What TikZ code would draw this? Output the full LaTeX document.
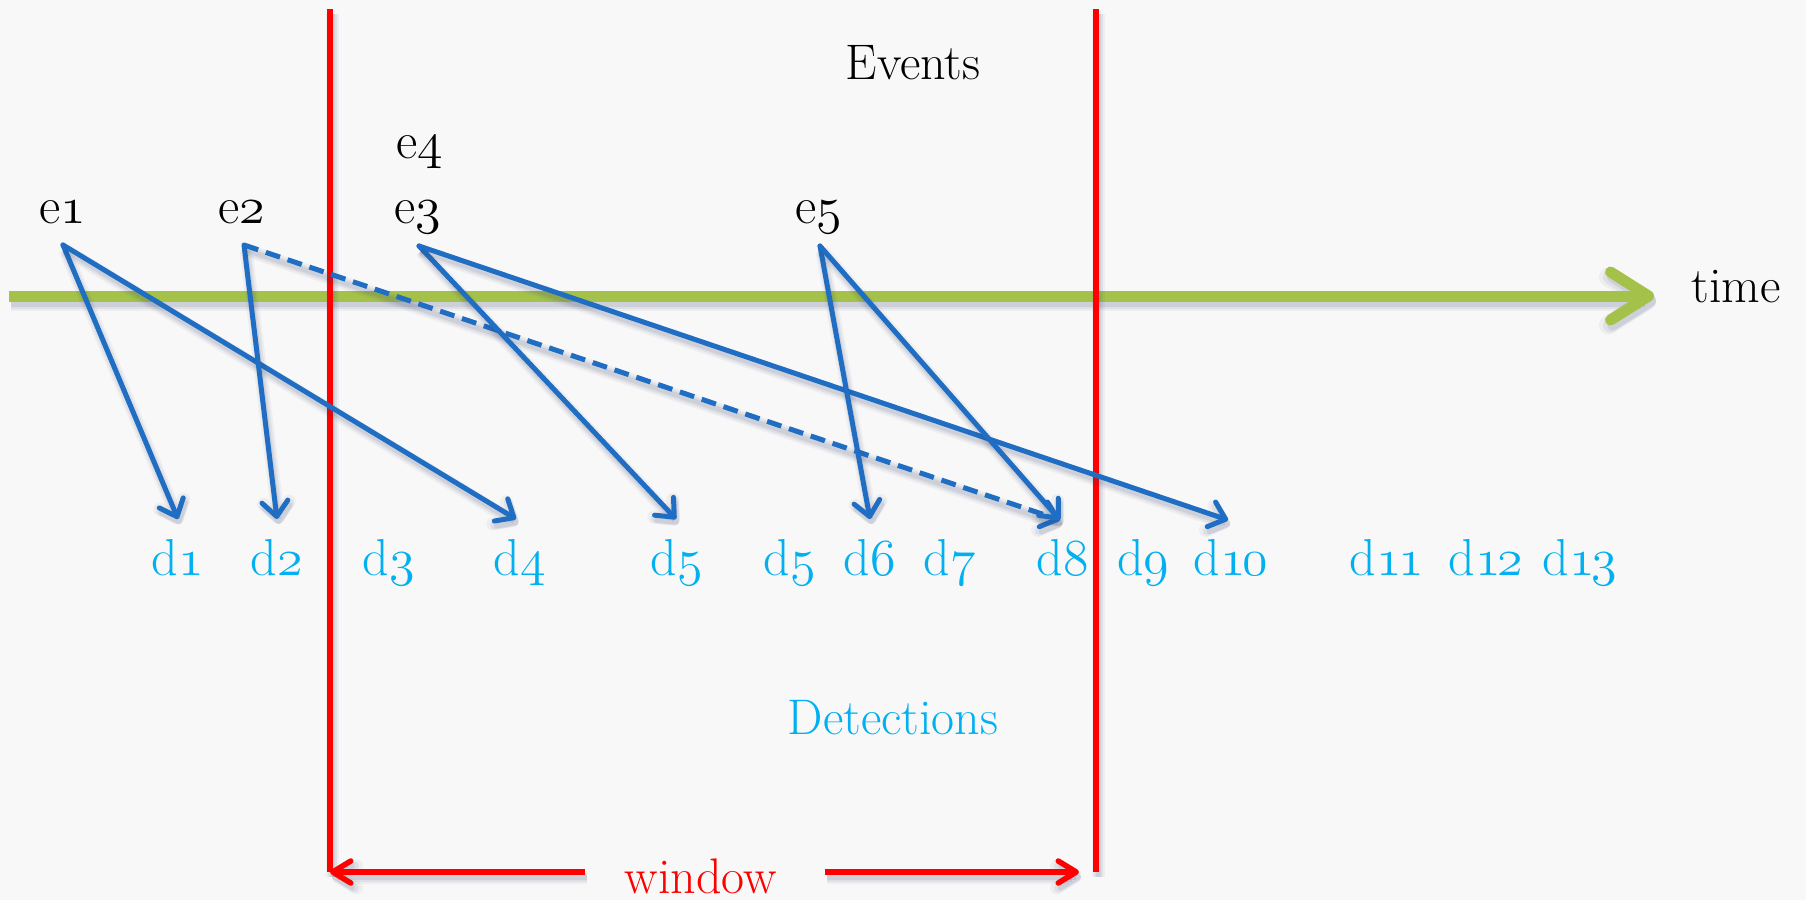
\documentclass[tikz,border=0pt]{standalone}
\usetikzlibrary{arrows.meta}

\definecolor{paper}{HTML}{F8F8F8}
\definecolor{linkblue}{HTML}{1F6EC4}
\definecolor{detcyan}{HTML}{00B0F0}
\definecolor{timegreen}{HTML}{A4C24A}
\definecolor{winred}{HTML}{FF0000}
\definecolor{shade}{HTML}{34456E}

% old-style figures from the math italic font, scalable to any size
\DeclareFontFamily{OML}{osfdig}{\skewchar\font=127 }
\DeclareFontShape{OML}{osfdig}{m}{it}{<->cmmi12}{}
\newcommand\osf[1]{{\usefont{OML}{osfdig}{m}{it}#1}}

\tikzset{
  lbl/.style={anchor=base, inner sep=0pt, font=\fontsize{50}{54}\selectfont},
  tag/.style={anchor=base, inner sep=0pt, font=\fontsize{52}{56}\selectfont},
  evlbl/.style={tag, text=black},
  detlbl/.style={tag, text=detcyan},
  soft shadow/.style={
    preaction={draw=shade, draw opacity=0.05, line width=#1+8pt,
      transform canvas={xshift=2pt,yshift=-5pt}},
    preaction={draw=shade, draw opacity=0.08, line width=#1+4pt,
      transform canvas={xshift=2pt,yshift=-5pt}},
    preaction={draw=shade, draw opacity=0.10, line width=#1,
      transform canvas={xshift=2pt,yshift=-5pt}}},
  link/.style={draw=linkblue, line width=5pt, line cap=round, line join=round,
    -{Straight Barb[length=15pt,width=26pt,round]}, soft shadow=5pt},
  dashlink/.style={link, line cap=butt, dash pattern=on 15pt off 8pt},
  timeline/.style={draw=timegreen, line width=11pt, line join=round,
    -{Straight Barb[length=38pt,width=48pt,round]}, soft shadow=11pt},
  bar/.style={draw=winred, line width=5.5pt, soft shadow=5pt},
  span/.style={draw=winred, line width=5.5pt,
    -{Straight Barb[length=18pt,width=22pt,round]}, soft shadow=5pt},
}

\begin{document}
\begin{tikzpicture}[x=1pt, y=-1pt]
  \useasboundingbox (0,0) rectangle (1806,900);
  \fill[paper] (0,0) rectangle (1806,900);

  % time axis
  \coordinate (t0) at (9,296);
  \coordinate (t1) at (1654,296);
  \draw[timeline] (t0) -- (t1);
  \node[lbl] (time) at (1736,302) {time};

  % headings
  \node[lbl] (events) at (913,79) {Events};
  \node[lbl, text=detcyan] (detections) at (893,734) {Detections};

  % events
  \node[evlbl] (e1) at (63,223) {e\osf{1}};
  \node[evlbl] (e2) at (242,223) {e\osf{2}};
  \node[evlbl] (e3) at (418,223) {e\osf{3}};
  \node[evlbl] (e4) at (420,158) {e\osf{4}};
  \node[evlbl] (e5) at (819,223) {e\osf{5}};

  % detections
  \node[detlbl] (d1)  at (178,575)  {d\osf{1}};
  \node[detlbl] (d2)  at (277,575)  {d\osf{2}};
  \node[detlbl] (d3)  at (389,575)  {d\osf{3}};
  \node[detlbl] (d4)  at (520,575)  {d\osf{4}};
  \node[detlbl] (d5)  at (677,575)  {d\osf{5}};
  \node[detlbl] (d5b) at (790,575)  {d\osf{5}};
  \node[detlbl] (d6)  at (870,575)  {d\osf{6}};
  \node[detlbl] (d7)  at (950,575)  {d\osf{7}};
  \node[detlbl] (d8)  at (1063,575) {d\osf{8}};
  \node[detlbl] (d9)  at (1143,575) {d\osf{9}};
  \node[detlbl] (d10) at (1231,575) {d\osf{1\kern-3pt0}};
  \node[detlbl] (d11) at (1387,575) {d\osf{1\kern-3pt1}};
  \node[detlbl] (d12) at (1486,575) {d\osf{1\kern-3pt2}};
  \node[detlbl] (d13) at (1580,575) {d\osf{1\kern-3pt3}};

  % window boundaries
  \coordinate (lt) at (330,9);
  \coordinate (lb) at (330,872);
  \coordinate (rt) at (1096,9);
  \coordinate (rb) at (1096,872);
  \draw[bar] (lt) -- (lb);
  \draw[bar] (rt) -- (rb);

  % event -> detection links
  \coordinate (e1out) at (63,245);
  \coordinate (e2out) at (244,245);
  \coordinate (e3out) at (419,246);
  \coordinate (e5out) at (820,246);
  \coordinate (d1in)  at (178,519);
  \coordinate (d2in)  at (277,519);
  \coordinate (d4in)  at (516,519);
  \coordinate (d5in)  at (676,519);
  \coordinate (d6in)  at (870,519);
  \coordinate (d8in)  at (1060,520);
  \coordinate (d10in) at (1228,520);

  \draw[link] (e1out) -- (d1in);
  \draw[link] (e1out) -- (d4in);
  \draw[link] (e2out) -- (d2in);
  \draw[dashlink] (e2out) -- (d8in);
  \draw[link] (e3out) -- (d5in);
  \draw[link] (e3out) -- (d10in);
  \draw[link] (e5out) -- (d6in);
  \draw[link] (e5out) -- (d8in);

  % window span
  \node[lbl, text=winred] (window) at (701,893) {window};
  \coordinate (wl) at (585,872);
  \coordinate (wr) at (825,872);
  \coordinate (wre) at (1079,872);
  \draw[span] (wl) -- (lb);
  \draw[span] (wr) -- (wre);
\end{tikzpicture}
\end{document}
